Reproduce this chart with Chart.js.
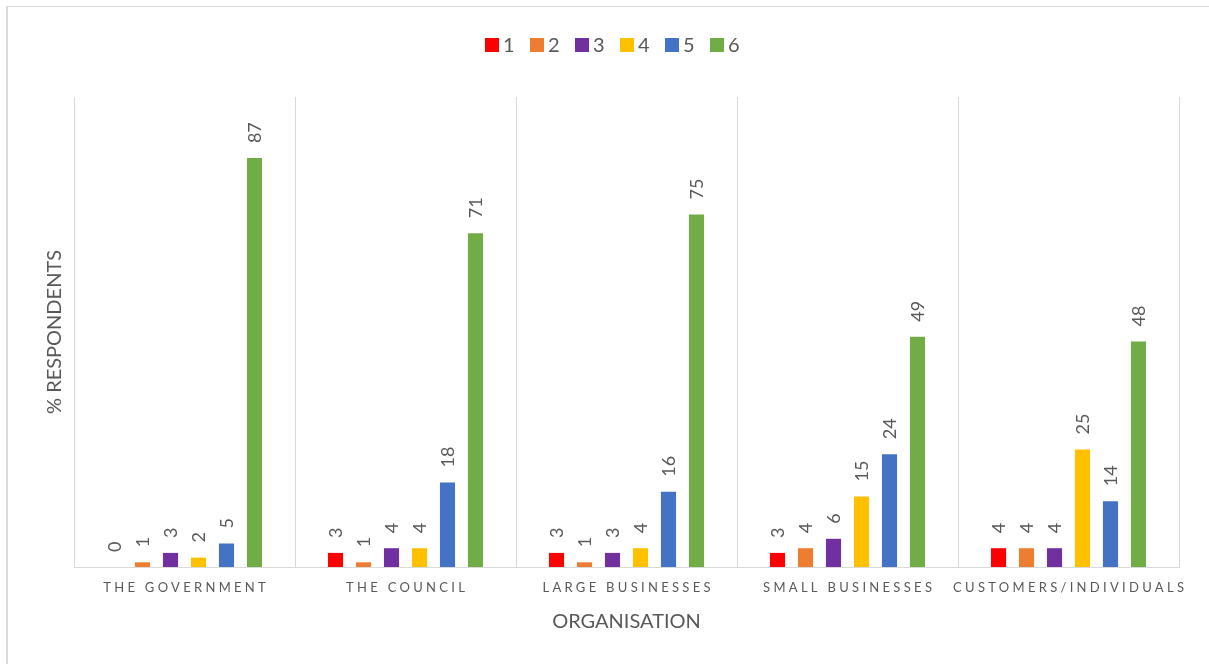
<!DOCTYPE html>
<html>
<head>
<meta charset="utf-8">
<script src="https://cdn.jsdelivr.net/npm/chart.js@4.4.1/dist/chart.umd.min.js"></script>
<style>
  html, body { margin: 0; padding: 0; background: #fff; overflow: hidden; }
  #wrap { position: absolute; left: 0; top: 0; width: 1209px; height: 664px; }
  #frame { position: absolute; left: 6px; top: 6px; width: 1400px; height: 800px; border-left: 2px solid #d9d9d9; border-top: 1px solid #d9d9d9; pointer-events: none; }
</style>
</head>
<body>
<div id="wrap"><canvas id="c" width="1209" height="664"></canvas></div>
<div id="frame"></div>
<script>
const categories = ["THE GOVERNMENT", "THE COUNCIL", "LARGE BUSINESSES", "SMALL BUSINESSES", "CUSTOMERS/INDIVIDUALS"];
const seriesNames = ["1", "2", "3", "4", "5", "6"];
const series1 = [0, 3, 3, 3, 4];
const series2 = [1, 1, 1, 4, 4];
const series3 = [3, 4, 3, 6, 4];
const series4 = [2, 4, 4, 15, 25];
const series5 = [5, 18, 16, 24, 14];
const series6 = [87, 71, 75, 49, 48];
const seriesColors = ["#FF0000", "#ED7D31", "#7030A0", "#FFC000", "#4472C4", "#70AD47"];
const yTitle = "% RESPONDENTS";
const xTitle = "ORGANISATION";

const allSeries = [series1, series2, series3, series4, series5, series6];
const FONT = "Lato, 'Open Sans', sans-serif";
const TEXT = "#595959";

const datasets = allSeries.map((d, i) => ({
  label: seriesNames[i],
  data: d,
  backgroundColor: seriesColors[i],
  borderWidth: 0,
  categoryPercentage: 0.76,
  barPercentage: 0.54
}));

const customDraw = {
  id: 'customDraw',
  afterDatasetsDraw(chart) {
    const ctx = chart.ctx;
    ctx.save();
    ctx.fillStyle = TEXT;
    ctx.font = "18px " + FONT;
    ctx.textAlign = 'left';
    ctx.textBaseline = 'middle';
    chart.data.datasets.forEach((ds, di) => {
      const meta = chart.getDatasetMeta(di);
      meta.data.forEach((bar, i) => {
        ctx.save();
        ctx.translate(bar.x + 1, bar.y - 15);
        ctx.rotate(-Math.PI / 2);
        ctx.fillText(String(ds.data[i]), 0, 0);
        ctx.restore();
      });
    });
    ctx.restore();
  },
  afterDraw(chart) {
    const ctx = chart.ctx;
    const xs = chart.scales.x;
    ctx.save();
    ctx.fillStyle = TEXT;
    ctx.font = "13px " + FONT;
    ctx.textAlign = 'center';
    ctx.textBaseline = 'middle';
    const sp = 3.3;
    ctx.letterSpacing = sp + "px";
    categories.forEach((c, i) => {
      const x = xs.getPixelForValue(i);
      ctx.fillText(c, x + sp / 2, 588);
    });
    ctx.restore();
    ctx.save();
    ctx.font = "20px " + FONT;
    ctx.textBaseline = 'middle';
    ctx.textAlign = 'left';
    const startX = 485, step = 45, cy = 45;
    seriesNames.forEach((n, i) => {
      const x = startX + i * step;
      ctx.fillStyle = seriesColors[i];
      ctx.fillRect(x, cy - 7, 14, 14);
      ctx.fillStyle = TEXT;
      ctx.fillText(n, x + 18, cy + 1);
    });
    ctx.restore();
  }
};

new Chart(document.getElementById('c'), {
  type: 'bar',
  data: { labels: categories, datasets },
  plugins: [customDraw],
  options: {
    responsive: false,
    animation: false,
    layout: { padding: { left: 0, right: 30, top: 97, bottom: 0 } },
    plugins: { legend: { display: false }, tooltip: { enabled: false } },
    scales: {
      x: {
        offset: true,
        grid: { display: true, offset: true, color: "#d9d9d9", lineWidth: 1, drawTicks: false },
        border: { display: true, color: "#d9d9d9", width: 1 },
        ticks: { display: false },
        title: { display: true, text: xTitle, color: TEXT, font: { family: FONT, size: 20 }, padding: { top: 0, bottom: 30 } },
        afterFit(s) { s.height = 97; }
      },
      y: {
        min: 0, max: 100,
        grid: { display: false },
        border: { display: false },
        ticks: { display: false },
        title: { display: true, text: yTitle, color: TEXT, font: { family: FONT, size: 20 }, padding: { top: 43, bottom: 0 } },
        afterFit(s) { s.width = 74; }
      }
    }
  }
});
</script>
</body>
</html>
